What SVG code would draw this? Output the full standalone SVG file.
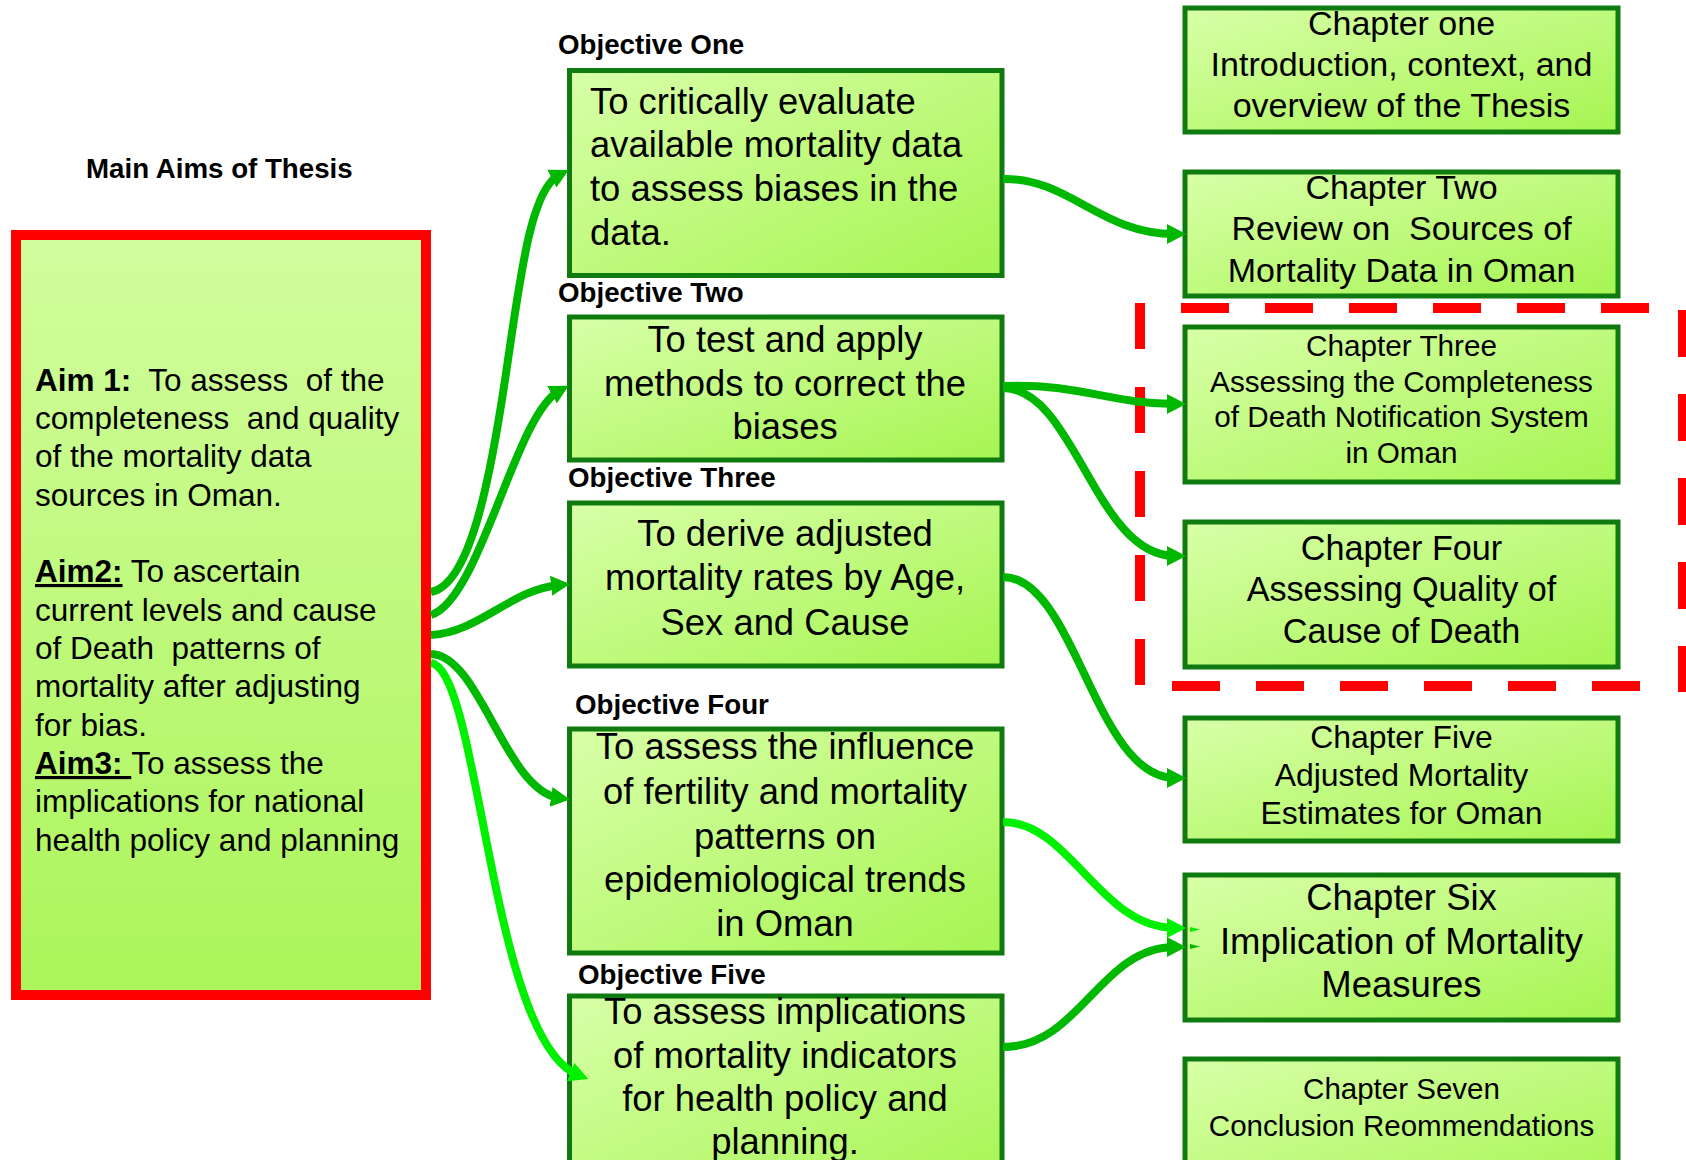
<svg xmlns="http://www.w3.org/2000/svg" width="1686" height="1160" viewBox="0 0 1686 1160">
<style>
text{font-family:"Liberation Sans",Arial,sans-serif;fill:#000}
.lbl{font-weight:bold;font-size:27.7px}
.obj{font-size:36.4px}
.box{fill:url(#boxGrad);stroke:#0f7a0f;stroke-width:5}
.con{fill:none;stroke:#00b800;stroke-width:8}
.conb{fill:none;stroke:#00f000;stroke-width:8}
.dash{stroke:#ff0000;stroke-width:10;fill:none}
.b{font-weight:bold}
.u{font-weight:bold;text-decoration:underline}
</style>
<defs>
<linearGradient id="boxGrad" x1="0" y1="0" x2="1" y2="1">
<stop offset="0" stop-color="#d8ffa8"/>
<stop offset="1" stop-color="#a6f552"/>
</linearGradient>
<linearGradient id="aimGrad" x1="0" y1="0" x2="0" y2="1">
<stop offset="0" stop-color="#d2fd9e"/>
<stop offset="1" stop-color="#abf55a"/>
</linearGradient>
<marker id="ah" markerUnits="userSpaceOnUse" markerWidth="22" markerHeight="22" refX="8" refY="11" orient="auto">
<path d="M0,1 L19,11 L0,21 z" fill="#00b800"/>
</marker>
<marker id="ahb" markerUnits="userSpaceOnUse" markerWidth="22" markerHeight="22" refX="8" refY="11" orient="auto">
<path d="M0,1 L19,11 L0,21 z" fill="#00f000"/>
</marker>
</defs>
<rect width="1686" height="1160" fill="#ffffff"/>

<g id="title">
<text class="lbl" x="86" y="178">Main Aims of Thesis</text>
</g>

<g id="aims">
<rect x="16" y="235" width="410" height="760" fill="url(#aimGrad)" stroke="#ff0000" stroke-width="10"/>
<text xml:space="preserve" x="35" y="391" font-size="31.5"><tspan class="b">Aim 1:</tspan>  To assess  of the</text>
<text xml:space="preserve" x="35" y="429" font-size="31.5">completeness  and quality</text>
<text xml:space="preserve" x="35" y="467" font-size="31.5">of the mortality data</text>
<text xml:space="preserve" x="35" y="506" font-size="31.5">sources in Oman.</text>
<text xml:space="preserve" x="35" y="582" font-size="31.5"><tspan class="u">Aim2:</tspan> To ascertain</text>
<text xml:space="preserve" x="35" y="621" font-size="31.5">current levels and cause</text>
<text xml:space="preserve" x="35" y="659" font-size="31.5">of Death  patterns of</text>
<text xml:space="preserve" x="35" y="697" font-size="31.5">mortality after adjusting</text>
<text xml:space="preserve" x="35" y="736" font-size="31.5">for bias.</text>
<text xml:space="preserve" x="35" y="774" font-size="31.5"><tspan class="u">Aim3: </tspan>To assess the</text>
<text xml:space="preserve" x="35" y="812" font-size="31.5">implications for national</text>
<text xml:space="preserve" x="35" y="851" font-size="31.5">health policy and planning</text>
</g>

<g id="obj1">
<text class="lbl" x="558" y="54">Objective One</text>
<rect class="box" x="569.5" y="70.5" width="432.5" height="205"/>
<text class="obj" x="590" y="114">To critically evaluate</text>
<text class="obj" x="590" y="157">available mortality data</text>
<text class="obj" x="590" y="201">to assess biases in the</text>
<text class="obj" x="590" y="245">data.</text>
</g>

<g id="obj2">
<text class="lbl" x="558" y="302">Objective Two</text>
<rect class="box" x="569.5" y="317" width="432.5" height="143"/>
<text class="obj" x="785" y="352" text-anchor="middle">To test and apply</text>
<text class="obj" x="785" y="396" text-anchor="middle">methods to correct the</text>
<text class="obj" x="785" y="439" text-anchor="middle">biases</text>
</g>

<g id="obj3">
<text class="lbl" x="568" y="487">Objective Three</text>
<rect class="box" x="569.5" y="503" width="432.5" height="163"/>
<text class="obj" x="785" y="546" text-anchor="middle">To derive adjusted</text>
<text class="obj" x="785" y="590" text-anchor="middle">mortality rates by Age,</text>
<text class="obj" x="785" y="635" text-anchor="middle">Sex and Cause</text>
</g>

<g id="obj4">
<text class="lbl" x="575" y="714">Objective Four</text>
<rect class="box" x="569.5" y="729" width="432.5" height="224"/>
<text class="obj" x="785" y="759" text-anchor="middle">To assess the influence</text>
<text class="obj" x="785" y="804" text-anchor="middle">of fertility and mortality</text>
<text class="obj" x="785" y="849" text-anchor="middle">patterns on</text>
<text class="obj" x="785" y="892" text-anchor="middle">epidemiological trends</text>
<text class="obj" x="785" y="936" text-anchor="middle">in Oman</text>
</g>

<g id="obj5">
<text class="lbl" x="578" y="984">Objective Five</text>
<rect class="box" x="569.5" y="996" width="432.5" height="200"/>
<text class="obj" x="785" y="1024" text-anchor="middle">To assess implications</text>
<text class="obj" x="785" y="1068" text-anchor="middle">of mortality indicators</text>
<text class="obj" x="785" y="1111" text-anchor="middle">for health policy and</text>
<text class="obj" x="785" y="1154" text-anchor="middle">planning.</text>
</g>

<g id="ch1">
<rect class="box" x="1185" y="8" width="433" height="124"/>
<text x="1401.5" y="35" font-size="34" text-anchor="middle">Chapter one</text>
<text x="1401.5" y="76" font-size="34" text-anchor="middle">Introduction, context, and</text>
<text x="1401.5" y="117" font-size="34" text-anchor="middle">overview of the Thesis</text>
</g>

<g id="ch2">
<rect class="box" x="1185" y="172" width="433" height="124"/>
<text x="1401.5" y="199" font-size="34" text-anchor="middle">Chapter Two</text>
<text xml:space="preserve" x="1401.5" y="240" font-size="34" text-anchor="middle">Review on  Sources of</text>
<text x="1401.5" y="282" font-size="34" text-anchor="middle">Mortality Data in Oman</text>
</g>

<g id="ch3">
<rect class="box" x="1185" y="327" width="433" height="155"/>
<text x="1401.5" y="356" font-size="29.7" text-anchor="middle">Chapter Three</text>
<text x="1401.5" y="392" font-size="29.7" text-anchor="middle">Assessing the Completeness</text>
<text x="1401.5" y="427" font-size="29.7" text-anchor="middle">of Death Notification System</text>
<text x="1401.5" y="463" font-size="29.7" text-anchor="middle">in Oman</text>
</g>

<g id="ch4">
<rect class="box" x="1185" y="522" width="433" height="145"/>
<text x="1401.5" y="560" font-size="34.2" text-anchor="middle">Chapter Four</text>
<text x="1401.5" y="601" font-size="34.2" text-anchor="middle">Assessing Quality of</text>
<text x="1401.5" y="643" font-size="34.2" text-anchor="middle">Cause of Death</text>
</g>

<g id="ch5">
<rect class="box" x="1185" y="718" width="433" height="123"/>
<text x="1401.5" y="748" font-size="31.9" text-anchor="middle">Chapter Five</text>
<text x="1401.5" y="786" font-size="31.9" text-anchor="middle">Adjusted Mortality</text>
<text x="1401.5" y="824" font-size="31.9" text-anchor="middle">Estimates for Oman</text>
</g>

<g id="ch6">
<rect class="box" x="1185" y="875" width="433" height="145"/>
<text x="1401.5" y="910" font-size="36.5" text-anchor="middle">Chapter Six</text>
<text x="1401.5" y="954" font-size="36.5" text-anchor="middle">Implication of Mortality</text>
<text x="1401.5" y="997" font-size="36.5" text-anchor="middle">Measures</text>
</g>

<g id="ch7">
<rect class="box" x="1185" y="1059" width="433" height="140"/>
<text x="1401.5" y="1099" font-size="29.5" text-anchor="middle">Chapter Seven</text>
<text x="1401.5" y="1136" font-size="29.5" text-anchor="middle">Conclusion Reommendations</text>
</g>

<g id="highlight">
<line class="dash" x1="1181" y1="308" x2="1650" y2="308" stroke-dasharray="48 36"/>
<line class="dash" x1="1172" y1="686" x2="1641" y2="686" stroke-dasharray="48 36"/>
<line class="dash" x1="1140" y1="303" x2="1140" y2="685" stroke-dasharray="46 38"/>
<line class="dash" x1="1683" y1="310" x2="1683" y2="692" stroke-dasharray="47 37"/>
</g>

<g id="connectors">
<path class="con" d="M431,592 C470,585 490,480 505,380 S530,190 559,175" marker-end="url(#ah)"/>
<path class="con" d="M431,615 C480,600 515,415 559,391" marker-end="url(#ah)"/>
<path class="con" d="M431,635 C480,632 510,590 559,585" marker-end="url(#ah)"/>
<path class="con" d="M431,654 C480,655 505,790 559,798" marker-end="url(#ah)"/>
<path class="conb" d="M431,663 C480,670 490,1040 578,1075" marker-end="url(#ahb)"/>
<path class="con" d="M1003,179 C1070,178 1100,234 1175,234" marker-end="url(#ah)"/>
<path class="con" d="M1003,386 C1080,383 1110,404 1175,404" marker-end="url(#ah)"/>
<path class="con" d="M1003,388 C1075,388 1095,556 1175,556" marker-end="url(#ah)"/>
<path class="con" d="M1003,577 C1075,577 1095,778 1175,778" marker-end="url(#ah)"/>
<path class="conb" d="M1003,822 C1070,822 1100,928 1175,928" marker-end="url(#ahb)"/>
<path class="con" d="M1003,1047 C1080,1047 1100,947 1175,947" marker-end="url(#ah)"/>
<polygon points="1190,927 1200,929.5 1190,932" fill="#00f000"/>
<polygon points="1190,944 1200,946.5 1190,949" fill="#00b800"/>
</g>
</svg>
